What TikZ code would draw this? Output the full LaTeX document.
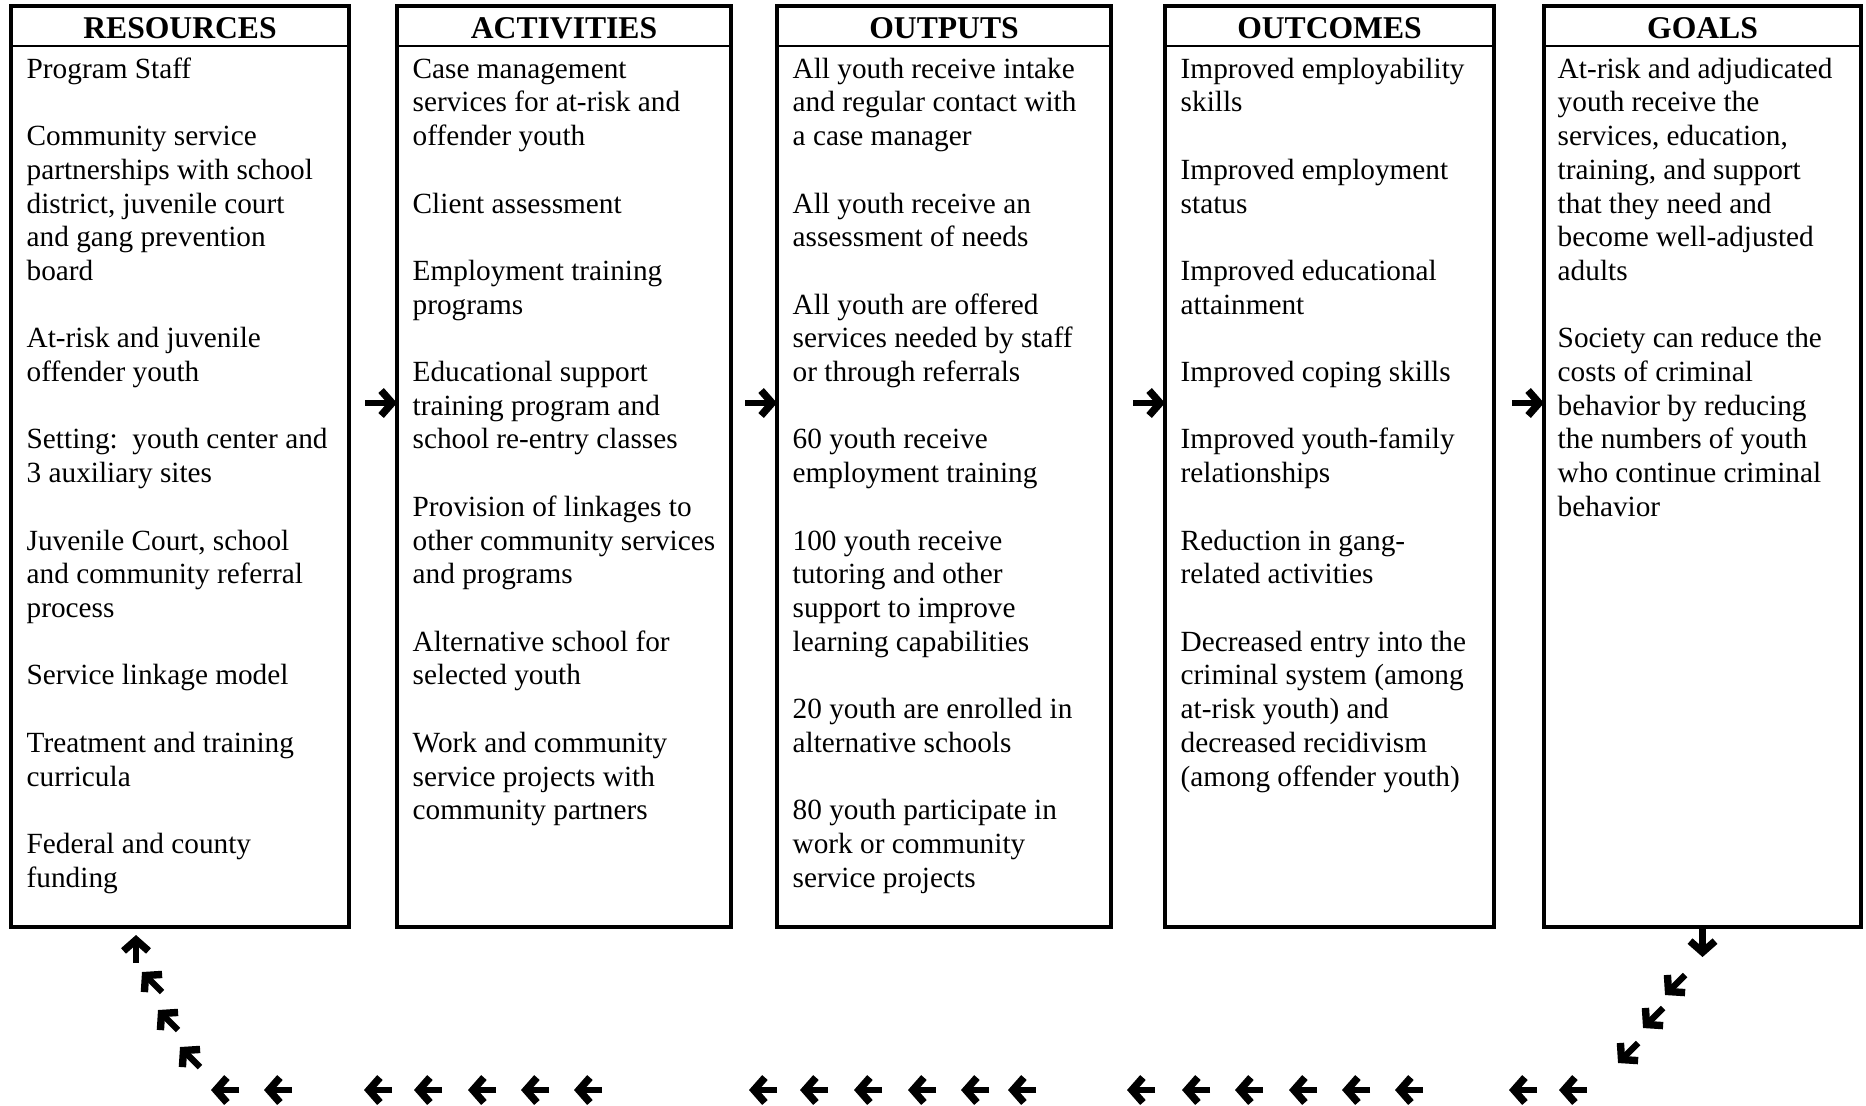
\documentclass[tikz,border=0pt]{standalone}
\usepackage{fontspec}
\setmainfont{Liberation Serif}
\usetikzlibrary{arrows.meta, positioning}
\newcommand{\skipline}{\\[9.59pt]}
\tikzset{
  colframe/.style={rectangle, draw, line width=0.95pt, anchor=north west,
                   minimum height=9.21cm, inner sep=0pt, outer sep=0pt},
  headtext/.style={anchor=north, minimum height=0.39cm, inner sep=0pt, yshift=-0.02cm,
                   font=\fontsize{9}{10}\selectfont\bfseries},
  bodytext/.style={anchor=north west, align=left, inner sep=0pt,
                   font=\fontsize{8.33}{9.59}\selectfont},
  headrule/.style={line width=0.55pt},
  flowarrow/.style={-{Straight Barb[length=1.1mm, width=2.5mm, sharp, line width=2.1pt]},
                    line width=1.8pt},
}

\begin{document}
\begin{tikzpicture}
  \useasboundingbox (0,0) rectangle (18.66,-11.05);

  % columns
  \node (res) [colframe, minimum width=3.38cm] at (0.11,-0.06) {};
  \node (act) [colframe, minimum width=3.34cm, right=0.48cm of res] {};
  \node (out) [colframe, minimum width=3.34cm, right=0.46cm of act] {};
  \node (ocm) [colframe, minimum width=3.29cm, right=0.54cm of out] {};
  \node (goa) [colframe, minimum width=3.17cm, right=0.50cm of ocm] {};

  \node (resh) [headtext] at (res.north) {RESOURCES};
  \node (acth) [headtext] at (act.north) {ACTIVITIES};
  \node (outh) [headtext] at (out.north) {OUTPUTS};
  \node (ocmh) [headtext] at (ocm.north) {OUTCOMES};
  \node (goah) [headtext] at (goa.north) {GOALS};

  \draw[headrule] ([yshift=0.02cm]res.west |- resh.south) -- ([yshift=0.02cm]res.east |- resh.south);
  \draw[headrule] ([yshift=0.02cm]act.west |- acth.south) -- ([yshift=0.02cm]act.east |- acth.south);
  \draw[headrule] ([yshift=0.02cm]out.west |- outh.south) -- ([yshift=0.02cm]out.east |- outh.south);
  \draw[headrule] ([yshift=0.02cm]ocm.west |- ocmh.south) -- ([yshift=0.02cm]ocm.east |- ocmh.south);
  \draw[headrule] ([yshift=0.02cm]goa.west |- goah.south) -- ([yshift=0.02cm]goa.east |- goah.south);

  \node (resb) [bodytext] at ([xshift=0.15cm, yshift=-0.055cm]res.west |- resh.south) {\strut Program Staff\skipline
    Community service\\ partnerships with school\\ district, juvenile court\\ and gang prevention\\ board\skipline
    At-risk and juvenile\\ offender youth\skipline
    Setting:\ \ youth center and\\ 3 auxiliary sites\skipline
    Juvenile Court, school\\ and community referral\\ process\skipline
    Service linkage model\skipline
    Treatment and training\\ curricula\skipline
    Federal and county\\ funding};
  \node (actb) [bodytext] at ([xshift=0.15cm, yshift=-0.055cm]act.west |- acth.south) {\strut Case management\\ services for at-risk and\\ offender youth\skipline
    Client assessment\skipline
    Employment training\\ programs\skipline
    Educational support\\ training program and\\ school re-entry classes\skipline
    Provision of linkages to\\ other community services\\ and programs\skipline
    Alternative school for\\ selected youth\skipline
    Work and community\\ service projects with\\ community partners};
  \node (outb) [bodytext] at ([xshift=0.15cm, yshift=-0.055cm]out.west |- outh.south) {\strut All youth receive intake\\ and regular contact with\\ a case manager\skipline
    All youth receive an\\ assessment of needs\skipline
    All youth are offered\\ services needed by staff\\ or through referrals\skipline
    60 youth receive\\ employment training\skipline
    100 youth receive\\ tutoring and other\\ support to improve\\ learning capabilities\skipline
    20 youth are enrolled in\\ alternative schools\skipline
    80 youth participate in\\ work or community\\ service projects};
  \node (ocmb) [bodytext] at ([xshift=0.15cm, yshift=-0.055cm]ocm.west |- ocmh.south) {\strut Improved employability\\ skills\skipline
    Improved employment\\ status\skipline
    Improved educational\\ attainment\skipline
    Improved coping skills\skipline
    Improved youth-family\\ relationships\skipline
    Reduction in gang-\\ related activities\skipline
    Decreased entry into the\\ criminal system (among\\ at-risk youth) and\\ decreased recidivism\\ (among offender youth)};
  \node (goab) [bodytext] at ([xshift=0.13cm, yshift=-0.055cm]goa.west |- goah.south) {\strut At-risk and adjudicated\\ youth receive the\\ services, education,\\ training, and support\\ that they need and\\ become well-adjusted\\ adults\skipline
    Society can reduce the\\ costs of criminal\\ behavior by reducing\\ the numbers of youth\\ who continue criminal\\ behavior};

  % arrows between columns
  \draw[flowarrow, shorten <=0.16cm] ([yshift=0.635cm]res.east) -- ([yshift=0.635cm]act.west);
  \draw[flowarrow, shorten <=0.14cm] ([yshift=0.635cm]act.east) -- ([yshift=0.635cm]out.west);
  \draw[flowarrow, shorten <=0.22cm] ([yshift=0.635cm]out.east) -- ([yshift=0.635cm]ocm.west);
  \draw[flowarrow, shorten <=0.18cm] ([yshift=0.635cm]ocm.east) -- ([yshift=0.635cm]goa.west);

  % feedback loop from goals back to resources
  \draw[flowarrow] (goa.south) -- ++(0,-0.30);
  \foreach \x/\y in {16.75/-9.85, 16.53/-10.18, 16.28/-10.53}
    \draw[flowarrow] (\x+0.1,\y+0.1) -- (\x-0.1,\y-0.1);
  \foreach \x in {15.73, 15.23, 14.09, 13.56, 13.03, 12.49, 11.96, 11.41,
                  10.22, 9.75, 9.22, 8.68, 8.14, 7.63,
                  5.88, 5.35, 4.82, 4.28, 3.78, 2.78, 2.25}
    \draw[flowarrow] (\x+0.14,-10.90) -- (\x-0.14,-10.90);
  \foreach \x/\y in {1.90/-10.57, 1.68/-10.20, 1.52/-9.82}
    \draw[flowarrow] (\x+0.1,\y-0.1) -- (\x-0.1,\y+0.1);
  \draw[flowarrow] ([xshift=-0.44cm, yshift=-0.36cm]res.south) -- ([xshift=-0.44cm, yshift=-0.08cm]res.south);
\end{tikzpicture}
\end{document}
